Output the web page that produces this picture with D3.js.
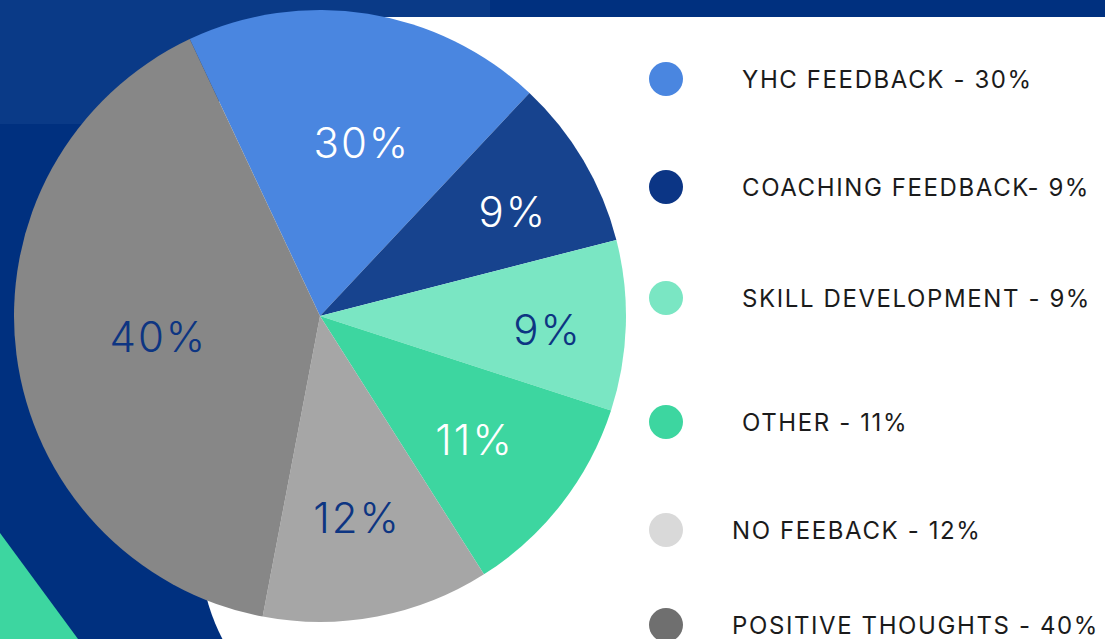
<!DOCTYPE html>
<html>
<head>
<meta charset="utf-8">
<script src="https://cdn.jsdelivr.net/npm/d3@7"></script>
<style>
  html, body { margin: 0; padding: 0; background: #00307f; overflow: hidden; }
  svg { display: block; }
</style>
</head>
<body>
<svg width="1105" height="639"></svg>
<script>
// legend text, as printed
const categories = ["YHC FEEDBACK - 30%", "COACHING FEEDBACK- 9%", "SKILL DEVELOPMENT - 9%",
  " OTHER - 11%", "NO FEEBACK - 12%", "POSITIVE THOUGHTS - 40%"];
// angular share of each slice as it is drawn (the picture's YHC slice is ~19% of the circle)
const sliceShares = [19, 9, 9, 11, 12, 40];
// percentages printed inside the slices
const sliceLabels = ["30%", "9%", "9%", "11%", "12%", "40%"];

const sliceColors = ["#4a86e0", "#17438e", "#7ae6c3", "#3dd6a0", "#a6a6a6", "#878787"];
const dotColors = ["#4a86e0", "#0b3585", "#7ae6c3", "#3dd6a0", "#d9d9d9", "#6f6f6f"];
const labelColors = ["#ffffff", "#ffffff", "#0d3582", "#ffffff", "#0d3582", "#0d3582"];

// layout
const cx = 320, cy = 316, R = 306;
const startDeg = -25.2;
const labelRadius = [178, 219, 228, 198, 205, 163];
const labelNudgeDeg = [4.6, 2.3, 1.7, 0.9, 0.4, -0.2];
const legendRows = [79, 187, 298, 422, 530, 625];

const svg = d3.select("svg");

// backdrop
svg.append("rect").attr("width", 1105).attr("height", 639).attr("fill", "#00307f");
svg.append("rect").attr("width", 490).attr("height", 124).attr("fill", "#0a3a87");
svg.append("path")
  .attr("d", "M1105,17 H360 A160,160 0 0 0 200,177 V547 A200,200 0 0 0 400,747 H1105 Z")
  .attr("fill", "#ffffff");
svg.append("path")
  .attr("d", "M0,533 L78,639 L0,639 Z")
  .attr("fill", "#3dd6a0");

// pie
const rad = Math.PI / 180;
const pie = d3.pie().sort(null)
  .startAngle(startDeg * rad)
  .endAngle(startDeg * rad + 2 * Math.PI);
const arcs = pie(sliceShares);
const arc = d3.arc().innerRadius(0).outerRadius(R);

const g = svg.append("g").attr("transform", `translate(${cx},${cy})`);
g.selectAll("path.slice")
  .data(arcs)
  .join("path")
  .attr("class", "slice")
  .attr("d", arc)
  .attr("fill", (d, i) => sliceColors[i]);

g.selectAll("text.pct")
  .data(arcs)
  .join("text")
  .attr("class", "pct")
  .attr("transform", (d, i) => {
    const a = (d.startAngle + d.endAngle) / 2 + labelNudgeDeg[i] * rad;
    const p = d3.arc().innerRadius(labelRadius[i]).outerRadius(labelRadius[i])
      .centroid({ startAngle: a, endAngle: a });
    return `translate(${p[0]},${p[1]})`;
  })
  .attr("text-anchor", "middle")
  .attr("dy", "0.36em")
  .attr("fill", (d, i) => labelColors[i])
  .style("font-family", "Inter, 'Noto Sans', sans-serif")
  .style("font-weight", 300)
  .style("font-size", "42px")
  .style("letter-spacing", "2px")
  .text((d, i) => sliceLabels[i]);

// legend
const legend = svg.append("g");
const rows = legend.selectAll("g")
  .data(categories)
  .join("g")
  .attr("transform", (d, i) => `translate(0,${legendRows[i]})`);
rows.append("circle")
  .attr("cx", 666)
  .attr("r", 17)
  .attr("fill", (d, i) => dotColors[i]);
rows.append("text")
  .attr("x", (d, i) => i >= 4 ? 732 : 742)
  .attr("dy", "0.36em")
  .attr("fill", "#1b1b1b")
  .style("font-family", "Inter, 'Noto Sans', sans-serif")
  .style("font-size", "24px")
  .style("letter-spacing", "1.6px")
  .text(d => d.trimStart());
</script>
</body>
</html>
